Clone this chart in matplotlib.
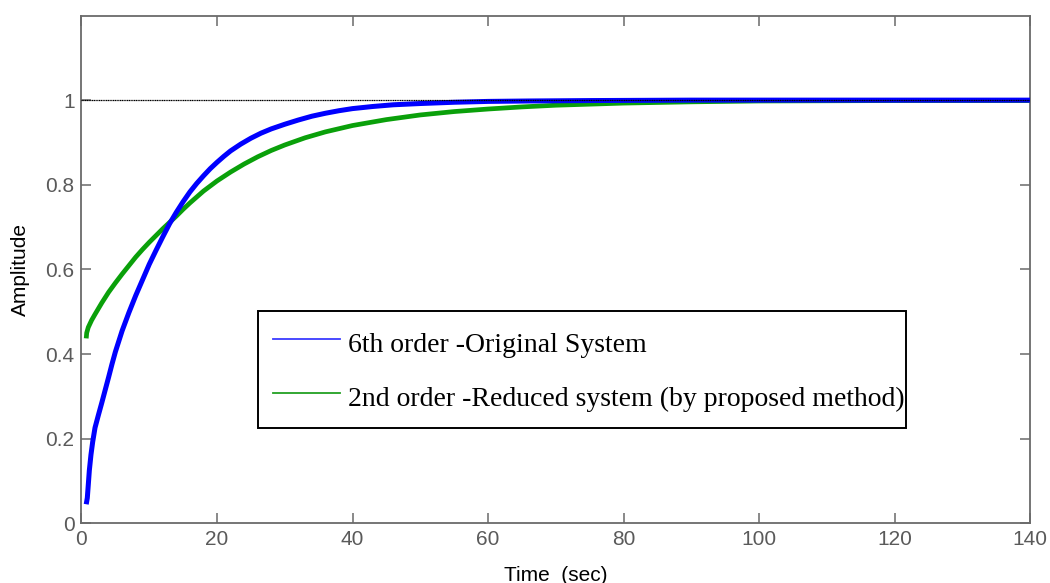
import numpy as np
import matplotlib
matplotlib.use('Agg')
from matplotlib import pyplot as plt
from matplotlib.lines import Line2D

# step response samples (time in sec, amplitude)
t_orig = [0.7, 0.86, 1.0, 1.16, 1.4, 1.65, 2.0, 2.5, 3.0, 3.5, 4.0, 4.5, 5.0, 5.5, 6.0,
          7.0, 8.0, 9.0, 10.0, 11.0, 12.0, 13.0, 14.0, 15.0, 16.0, 17.0, 18.0, 19.0,
          20.0, 21.0, 22.0, 23.5, 25.0, 26.5, 28.0, 30.0, 32.0, 34.0, 36.0, 38.0, 40.0,
          43.0, 46.0, 50.0, 55.0, 60.0, 66.0, 75.0, 90.0, 140.0]
y_orig = [0.045, 0.06, 0.09, 0.125, 0.162, 0.192, 0.226, 0.256, 0.285, 0.315, 0.345,
          0.376, 0.405, 0.43, 0.455, 0.498, 0.538, 0.575, 0.612, 0.645, 0.677, 0.708,
          0.735, 0.76, 0.783, 0.803, 0.821, 0.838, 0.853, 0.867, 0.88, 0.896, 0.91,
          0.922, 0.932, 0.943, 0.953, 0.962, 0.969, 0.975, 0.98, 0.985, 0.989, 0.992,
          0.995, 0.997, 0.998, 0.999, 1.0, 1.0]

t_red = [0.7, 0.77, 1.0, 1.5, 2.0, 3.0, 4.0, 5.0, 6.0, 7.0, 8.0, 9.0, 10.0, 11.0, 12.0,
         13.0, 14.0, 15.0, 16.0, 17.0, 18.0, 19.0, 20.0, 22.0, 24.0, 26.0, 28.0, 30.0,
         33.0, 36.0, 40.0, 45.0, 50.0, 55.0, 60.0, 65.0, 70.0, 80.0, 90.0, 100.0, 120.0,
         140.0]
y_red = [0.437, 0.45, 0.463, 0.48, 0.494, 0.521, 0.546, 0.568, 0.589, 0.609, 0.629,
         0.647, 0.664, 0.68, 0.696, 0.711, 0.726, 0.742, 0.757, 0.771, 0.785, 0.797,
         0.809, 0.83, 0.849, 0.866, 0.881, 0.894, 0.911, 0.925, 0.94, 0.954, 0.965,
         0.973, 0.979, 0.984, 0.988, 0.993, 0.996, 0.998, 0.999, 0.999]

final_value = 1.0
x_ticks = [0, 20, 40, 60, 80, 100, 120, 140]
y_ticks = [0, 0.2, 0.4, 0.6, 0.8, 1.0]
labels = ['6th order -Original System', '2nd order -Reduced system (by proposed method)']

plt.rcParams['font.family'] = ['Liberation Sans', 'DejaVu Sans']

fig = plt.figure(figsize=(10.5, 5.83), dpi=100)
ax = fig.add_axes([0.0776, 0.1024, 0.9034, 0.871])

ax.plot(t_orig, y_orig, color='#0000ff', lw=3.6, solid_joinstyle='round',
        solid_capstyle='butt', zorder=3)
ax.plot(t_red, y_red, color='#0aa00a', lw=3.4, solid_joinstyle='round',
        solid_capstyle='butt', zorder=2)
ax.plot([0, 140], [final_value, final_value], color='black', lw=0.9, ls=(0, (1, 0.4)), zorder=4)

ax.set_xlim(0, 140)
ax.set_ylim(0, 1.2)
ax.set_xticks(x_ticks)
ax.set_yticks(y_ticks)
ax.set_yticklabels(['%g' % v for v in y_ticks])

gray = '#6a6a6a'
for s in ax.spines.values():
    s.set_color(gray)
    s.set_linewidth(1.3)
ax.tick_params(direction='in', length=7, width=1.1, color=gray, labelcolor='#5a5a5a',
               labelsize=15, top=True, right=True, pad=5)

ax.set_xlabel('Time  (sec)', fontsize=15, labelpad=12)
ax.set_ylabel('Amplitude', fontsize=15, labelpad=11)

handles = [Line2D([], [], color='#3a3aff', lw=1.3),
           Line2D([], [], color='#22a022', lw=1.3)]
leg = ax.legend(handles, labels, loc='upper left', mode='expand',
                bbox_to_anchor=(0.186, 0.186, 0.683, 0.232),
                prop={'family': 'Liberation Serif', 'size': 20}, fancybox=False,
                framealpha=1, edgecolor='black', handlelength=2.4, handletextpad=0.3,
                handleheight=1.4, borderpad=0.55, labelspacing=0.8, borderaxespad=0)
leg.get_frame().set_linewidth(1.4)

plt.savefig('out.png', dpi=100)
